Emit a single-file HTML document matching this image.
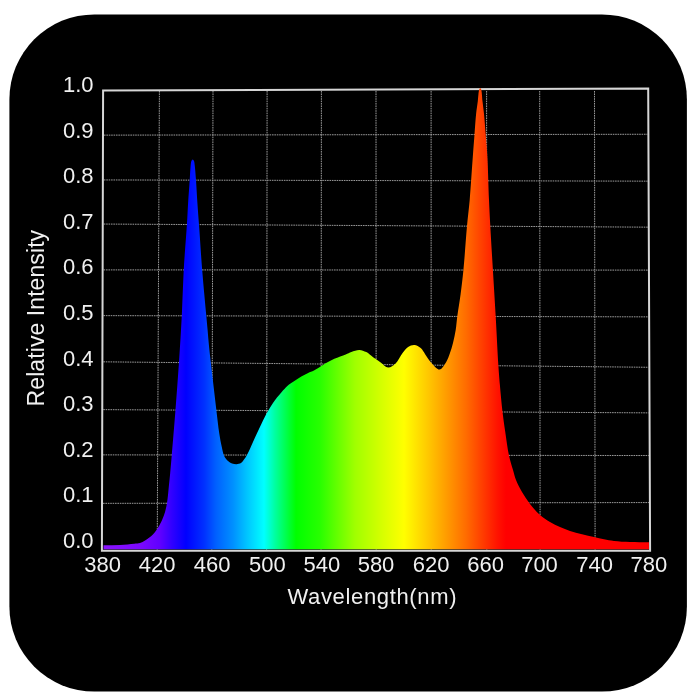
<!DOCTYPE html>
<html><head><meta charset="utf-8"><style>
html,body{margin:0;padding:0;background:#fff;}
svg{display:block;will-change:transform;}
text{font-family:"Liberation Sans", sans-serif;}
</style></head><body>
<svg width="700" height="700" viewBox="0 0 700 700">
<defs><linearGradient id="sp" gradientUnits="userSpaceOnUse" x1="102.5" y1="0" x2="649" y2="0">
<stop offset="0.0000" stop-color="#8a14ff"/>
<stop offset="0.0686" stop-color="#7c08ff"/>
<stop offset="0.1052" stop-color="#6000ff"/>
<stop offset="0.1272" stop-color="#3000ff"/>
<stop offset="0.1528" stop-color="#0000ff"/>
<stop offset="0.1857" stop-color="#0030ff"/>
<stop offset="0.2077" stop-color="#0060ff"/>
<stop offset="0.2388" stop-color="#0090ff"/>
<stop offset="0.2662" stop-color="#00c8ff"/>
<stop offset="0.2955" stop-color="#00ffff"/>
<stop offset="0.3156" stop-color="#00ffa0"/>
<stop offset="0.3541" stop-color="#00ff00"/>
<stop offset="0.3980" stop-color="#28ff00"/>
<stop offset="0.4273" stop-color="#60ff00"/>
<stop offset="0.4620" stop-color="#a0ff00"/>
<stop offset="0.5133" stop-color="#d8ff00"/>
<stop offset="0.5517" stop-color="#ffff00"/>
<stop offset="0.5956" stop-color="#ffc800"/>
<stop offset="0.6322" stop-color="#ff9800"/>
<stop offset="0.6651" stop-color="#ff6c00"/>
<stop offset="0.6908" stop-color="#ff4400"/>
<stop offset="0.7219" stop-color="#ff1400"/>
<stop offset="0.7383" stop-color="#ff0000"/>
<stop offset="1.0000" stop-color="#ff0000"/>
</linearGradient></defs>
<rect x="0" y="0" width="700" height="700" fill="#fff"/>
<rect x="9.4" y="14.4" width="677.5" height="677.2" rx="85" ry="85" fill="#000"/>
<g stroke="#9a9a9a" stroke-width="1" stroke-dasharray="1.6,0.8" fill="none">
<line x1="159.40" y1="91" x2="157.20" y2="550" />
<line x1="213.00" y1="91" x2="211.80" y2="550" />
<line x1="267.10" y1="91" x2="266.60" y2="550" />
<line x1="321.40" y1="91" x2="321.00" y2="550" />
<line x1="376.00" y1="91" x2="376.20" y2="550" />
<line x1="431.10" y1="91" x2="431.20" y2="550" />
<line x1="486.60" y1="91" x2="486.80" y2="550" />
<line x1="539.70" y1="91" x2="540.10" y2="550" />
<line x1="594.50" y1="91" x2="595.10" y2="550" />
<line x1="103.98" y1="135.14" x2="647.39" y2="134.26" />
<line x1="103.87" y1="179.94" x2="647.58" y2="181.16" />
<line x1="103.75" y1="224.05" x2="647.77" y2="227.16" />
<line x1="103.63" y1="269.89" x2="647.95" y2="270.11" />
<line x1="103.51" y1="315.64" x2="648.14" y2="316.86" />
<line x1="103.39" y1="361.83" x2="648.34" y2="367.28" />
<line x1="103.27" y1="409.64" x2="648.53" y2="412.87" />
<line x1="103.15" y1="454.87" x2="648.71" y2="455.54" />
<line x1="103.02" y1="503.34" x2="648.90" y2="502.56" />
</g>
<path d="M101.9,550.8 L103.1,90.5 L648.2,88.5 L650.1,550.8 Z" fill="none" stroke="#d6d6d6" stroke-width="2" stroke-linejoin="miter"/>
<path d="M103.50,545.20 C109.00,545.10 114.70,545.17 120.00,544.90 C124.94,544.65 130.61,544.05 134.30,543.70 C136.63,543.48 138.20,543.62 140.00,543.10 C141.80,542.58 143.28,541.73 145.10,540.60 C147.49,539.11 150.58,537.00 152.90,534.60 C155.35,532.05 157.48,528.75 159.30,525.60 C161.10,522.48 162.60,519.09 163.80,515.80 C164.94,512.66 165.75,509.32 166.40,506.30 C166.97,503.62 167.23,501.50 167.60,498.60 C168.08,494.86 168.47,489.99 168.90,485.70 C169.33,481.42 169.77,477.46 170.20,472.90 C170.70,467.66 171.10,463.02 171.70,456.00 C172.69,444.38 174.29,425.25 175.50,409.70 C176.73,393.92 177.94,377.78 179.00,362.00 C180.04,346.46 181.01,331.07 181.80,315.70 C182.58,300.47 182.85,285.37 183.70,270.20 C184.55,255.00 186.12,237.01 186.90,224.60 C187.44,216.04 187.64,210.21 188.10,202.90 C188.57,195.44 189.25,186.98 189.70,180.30 C190.05,174.99 190.21,169.54 190.60,166.00 C190.83,163.90 190.88,162.16 191.40,161.00 C191.73,160.26 192.27,159.40 192.70,159.40 C193.13,159.40 193.67,160.26 194.00,161.00 C194.52,162.16 194.54,163.90 194.80,166.00 C195.23,169.54 195.61,174.99 196.00,180.30 C196.49,186.97 196.89,195.44 197.40,202.90 C197.90,210.21 198.38,216.04 199.00,224.60 C199.89,237.01 200.98,255.01 202.20,270.20 C203.42,285.38 205.31,304.80 206.30,315.70 C206.85,321.81 207.17,325.18 207.60,330.00 C208.04,334.94 208.39,339.82 208.90,345.00 C209.45,350.56 210.10,356.05 210.80,362.30 C211.63,369.69 212.67,378.44 213.60,386.50 C214.53,394.54 215.45,402.72 216.40,410.60 C217.32,418.21 218.18,426.42 219.20,433.00 C220.01,438.23 220.87,442.86 221.80,447.00 C222.56,450.35 222.99,453.53 224.20,456.00 C225.19,458.03 226.58,459.73 228.00,461.00 C229.22,462.09 230.58,462.87 232.00,463.40 C233.41,463.93 235.01,464.26 236.50,464.20 C238.01,464.14 239.75,463.79 241.00,463.00 C242.25,462.22 243.04,460.77 244.00,459.50 C245.04,458.12 245.99,456.78 247.00,455.00 C248.32,452.65 249.68,449.38 251.00,446.50 C252.35,443.55 253.65,440.45 255.00,437.50 C256.32,434.62 257.67,431.83 259.00,429.00 C260.33,426.17 261.71,423.13 263.00,420.50 C264.13,418.18 265.18,416.06 266.30,414.00 C267.35,412.07 268.39,410.32 269.50,408.50 C270.62,406.66 271.76,404.81 273.00,403.00 C274.26,401.15 275.59,399.29 277.00,397.50 C278.42,395.69 279.86,394.04 281.50,392.20 C283.36,390.12 285.48,387.54 287.60,385.70 C289.53,384.03 291.46,382.94 293.60,381.50 C295.99,379.89 298.78,377.96 301.30,376.50 C303.60,375.16 305.89,374.03 308.10,373.00 C310.12,372.05 311.88,371.60 314.00,370.50 C316.71,369.10 319.72,366.84 322.90,365.00 C326.44,362.95 330.44,360.58 334.30,358.80 C338.04,357.07 342.56,355.69 345.70,354.40 C347.94,353.48 349.31,352.62 351.40,351.90 C353.81,351.08 356.84,349.82 359.40,349.90 C361.80,349.98 364.10,350.95 366.30,352.10 C368.69,353.35 370.74,355.61 373.10,357.30 C375.54,359.05 378.19,360.68 380.70,362.40 C383.19,364.11 385.58,367.45 388.10,367.60 C390.55,367.75 393.38,365.62 395.60,363.60 C398.27,361.16 400.12,356.24 402.40,353.30 C404.29,350.86 405.94,348.37 408.10,347.00 C410.00,345.80 412.33,344.94 414.40,345.10 C416.53,345.26 418.92,346.62 420.70,348.10 C422.59,349.66 423.69,352.17 425.30,354.40 C427.11,356.90 428.72,359.95 431.00,362.40 C433.43,365.01 437.02,369.70 439.60,369.50 C442.02,369.31 444.39,364.88 446.10,362.20 C447.77,359.57 448.69,356.66 449.80,353.60 C451.01,350.26 452.05,346.65 453.00,342.90 C454.03,338.82 454.99,334.38 455.70,330.00 C456.43,325.52 456.62,321.40 457.30,316.30 C458.16,309.82 459.60,301.80 460.60,294.30 C461.64,286.48 462.49,279.52 463.40,270.30 C464.64,257.81 465.82,238.90 467.00,226.10 C467.91,216.26 468.84,209.78 469.70,200.00 C470.80,187.47 471.91,169.13 472.80,157.10 C473.44,148.37 473.94,141.85 474.50,134.50 C475.04,127.50 475.47,120.02 476.10,114.00 C476.60,109.23 477.27,105.37 477.80,101.20 C478.30,97.21 478.47,91.57 479.20,89.50 C479.49,88.67 479.87,87.90 480.20,87.90 C480.53,87.90 480.91,88.67 481.20,89.50 C481.92,91.57 482.04,97.21 482.50,101.20 C482.98,105.37 483.52,109.23 484.00,114.00 C484.60,120.03 485.15,127.50 485.70,134.50 C486.28,141.85 486.91,148.36 487.40,157.10 C488.08,169.12 488.45,187.47 489.00,200.00 C489.43,209.78 489.76,216.28 490.30,226.10 C490.99,238.84 492.01,255.16 492.90,270.00 C493.81,285.28 494.80,300.78 495.70,316.50 C496.63,332.67 497.56,353.07 498.40,365.70 C498.92,373.62 499.29,378.05 499.90,385.00 C500.62,393.18 501.54,403.48 502.50,411.70 C503.33,418.77 504.18,424.52 505.20,431.40 C506.32,439.01 507.50,448.43 509.00,455.40 C510.19,460.91 511.74,465.60 513.00,470.00 C514.05,473.65 514.64,476.58 516.00,480.00 C517.54,483.88 519.72,488.07 522.00,492.00 C524.36,496.07 527.03,500.19 530.00,504.00 C533.02,507.87 536.49,511.91 540.00,515.00 C543.18,517.80 546.59,519.97 550.00,522.00 C553.26,523.94 556.63,525.49 560.00,527.00 C563.30,528.48 566.48,529.82 570.00,531.00 C573.78,532.27 577.99,533.30 582.00,534.30 C585.99,535.30 590.18,536.13 594.00,537.00 C597.49,537.79 600.66,538.63 604.00,539.30 C607.32,539.96 610.26,540.57 614.00,541.00 C618.70,541.54 624.43,541.80 630.00,542.00 C636.06,542.22 642.67,542.13 649.00,542.20 L649,549.2 L103.5,549.2 Z" fill="url(#sp)"/>
<g font-size="22" fill="#f0f0f0" >
<text x="93.5" y="92.1" text-anchor="end">1.0</text>
<text x="93.5" y="137.7" text-anchor="end">0.9</text>
<text x="93.5" y="183.3" text-anchor="end">0.8</text>
<text x="93.5" y="228.8" text-anchor="end">0.7</text>
<text x="93.5" y="274.4" text-anchor="end">0.6</text>
<text x="93.5" y="320.0" text-anchor="end">0.5</text>
<text x="93.5" y="365.6" text-anchor="end">0.4</text>
<text x="93.5" y="411.2" text-anchor="end">0.3</text>
<text x="93.5" y="456.7" text-anchor="end">0.2</text>
<text x="93.5" y="502.3" text-anchor="end">0.1</text>
<text x="93.5" y="547.9" text-anchor="end">0.0</text>
<text x="102.7" y="572.3" text-anchor="middle">380</text>
<text x="157.1" y="572.3" text-anchor="middle">420</text>
<text x="212.1" y="572.3" text-anchor="middle">460</text>
<text x="267.4" y="572.3" text-anchor="middle">500</text>
<text x="321.8" y="572.3" text-anchor="middle">540</text>
<text x="376.0" y="572.3" text-anchor="middle">580</text>
<text x="431.2" y="572.3" text-anchor="middle">620</text>
<text x="485.6" y="572.3" text-anchor="middle">660</text>
<text x="539.5" y="572.3" text-anchor="middle">700</text>
<text x="594.7" y="572.3" text-anchor="middle">740</text>
<text x="648.9" y="572.3" text-anchor="middle">780</text>
<text x="287.5" y="603.6" textLength="169" lengthAdjust="spacing">Wavelength(nm)</text>
<text transform="translate(43.5,406.4) rotate(-90)" font-size="23" textLength="176.5" lengthAdjust="spacing">Relative Intensity</text>
</g>
</svg>
</body></html>
